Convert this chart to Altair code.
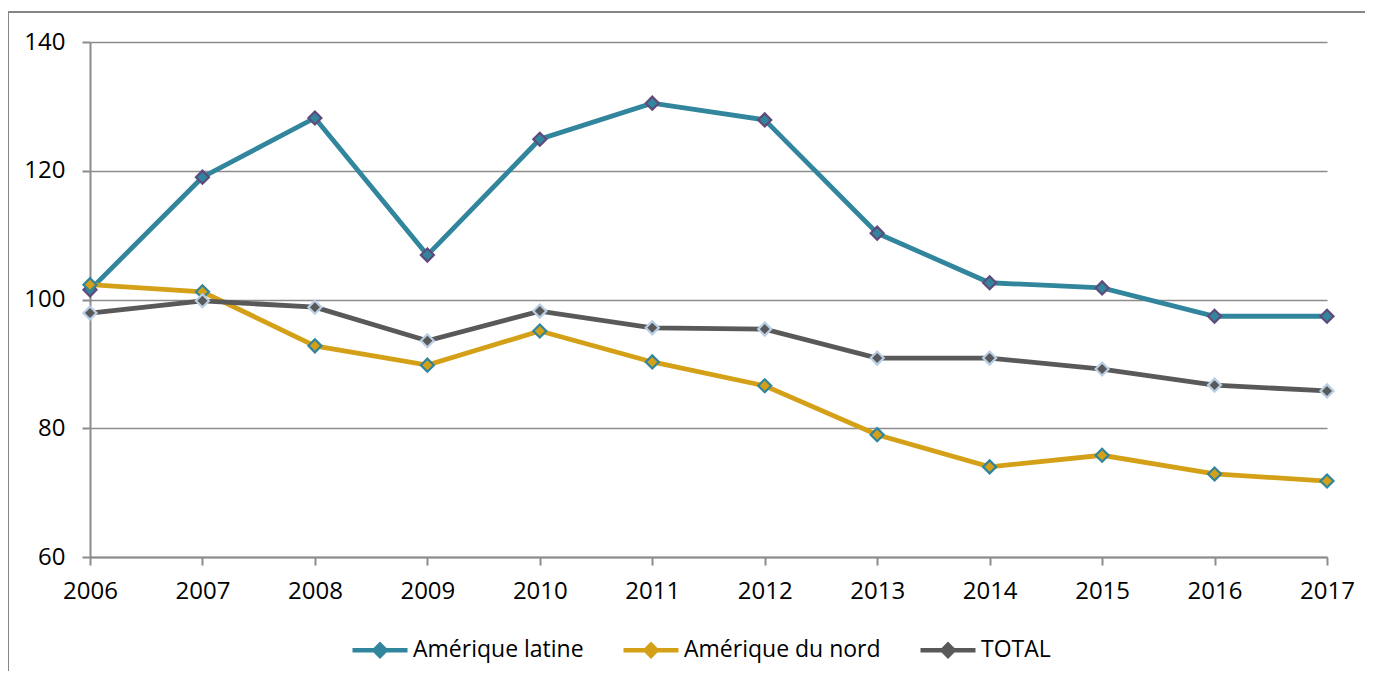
import altair as alt
import pandas as pd

years = list(range(2006, 2018))
latine = [101.5, 119.0, 128.2, 106.9, 124.9, 130.5, 127.9, 110.3, 102.6, 101.8, 97.4, 97.4]
nord = [102.3, 101.2, 92.8, 89.8, 95.1, 90.3, 86.6, 79.0, 74.0, 75.8, 72.9, 71.8]
total = [97.9, 99.8, 98.8, 93.6, 98.2, 95.6, 95.4, 90.9, 90.9, 89.2, 86.7, 85.8]

series = ["Amérique latine", "Amérique du nord", "TOTAL"]
line_colors = ["#31859C", "#D4A017", "#595959"]
marker_strokes = ["#604A7B", "#31859C", "#B9CDE5"]
y_ticks = [60, 80, 100, 120, 140]

rows = []
for name, vals in zip(series, [latine, nord, total]):
    for yr, v in zip(years, vals):
        rows.append({"year": yr, "value": v, "series": name})
df = pd.DataFrame(rows)

FONT = "Open Sans"
FS = 24
GRID = "#8C8C8C"

x_enc = alt.X(
    "year:Q",
    scale=alt.Scale(domain=[2006, 2017], nice=False, zero=False),
    axis=alt.Axis(values=years, format="d", title=None, grid=False, tickSize=8,
                  labelPadding=14, labelFontSize=FS, labelFont=FONT, labelColor="#000000",
                  domainColor=GRID, tickColor=GRID, domainWidth=2, tickWidth=2,
                  labelFlush=False),
)
y_enc = alt.Y(
    "value:Q",
    scale=alt.Scale(domain=[60, 140], nice=False, zero=False),
    axis=alt.Axis(values=y_ticks, title=None, grid=True, gridColor=GRID, gridWidth=1.5,
                  tickSize=8, labelPadding=17, labelFontSize=FS, labelFont=FONT,
                  labelColor="#000000", domainColor=GRID, tickColor=GRID,
                  domainWidth=2, tickWidth=2),
)

# legend symbol: horizontal line with a diamond in the middle
legend_path = ("M-1,0L-0.2,0M0.2,0L1,0"
               "M-0.2,0L0,-0.2L0.2,0L0,0.2Z")

legend = alt.Legend(
    title=None, orient="none", legendX=260, legendY=578, direction="horizontal",
    symbolType=legend_path, symbolSize=3025, symbolStrokeWidth=4.5, symbolOpacity=1,
    labelFontSize=23, labelFont=FONT, labelColor="#000000", labelOffset=3,
    columnPadding=30, labelLimit=500,
)

color_scale = alt.Scale(domain=series, range=line_colors)

lines = alt.Chart(df).mark_line(strokeWidth=4.8, fillOpacity=0).encode(
    x=x_enc, y=y_enc,
    color=alt.Color("series:N", scale=color_scale, sort=series, legend=legend),
    fill=alt.Fill("series:N", scale=color_scale, sort=series, legend=legend),
    order=alt.Order("year:Q"),
)

points = alt.Chart(df).mark_point(shape="diamond", filled=True, size=170,
                                  strokeWidth=2.2, opacity=1, fillOpacity=1).encode(
    x="year:Q", y="value:Q",
    fill=alt.Fill("series:N", scale=color_scale, sort=series, legend=None),
    stroke=alt.Stroke("series:N", scale=alt.Scale(domain=series, range=marker_strokes),
                      sort=series, legend=None),
)

frame = alt.Chart(pd.DataFrame({"a": [0]})).mark_rect(
    fill="transparent", stroke="#868686", strokeWidth=2
).encode(
    x=alt.value(-82), x2=alt.value(1400), y=alt.value(-30), y2=alt.value(720)
)

chart = alt.layer(frame, lines, points).properties(
    width=1237, height=515,
    autosize=alt.AutoSizeParams(type="none"),
    padding={"left": 82, "top": 34, "right": 38, "bottom": 114},
).configure_view(stroke=None)

chart.save("out.html", embed_options={"renderer": "svg", "actions": False})
